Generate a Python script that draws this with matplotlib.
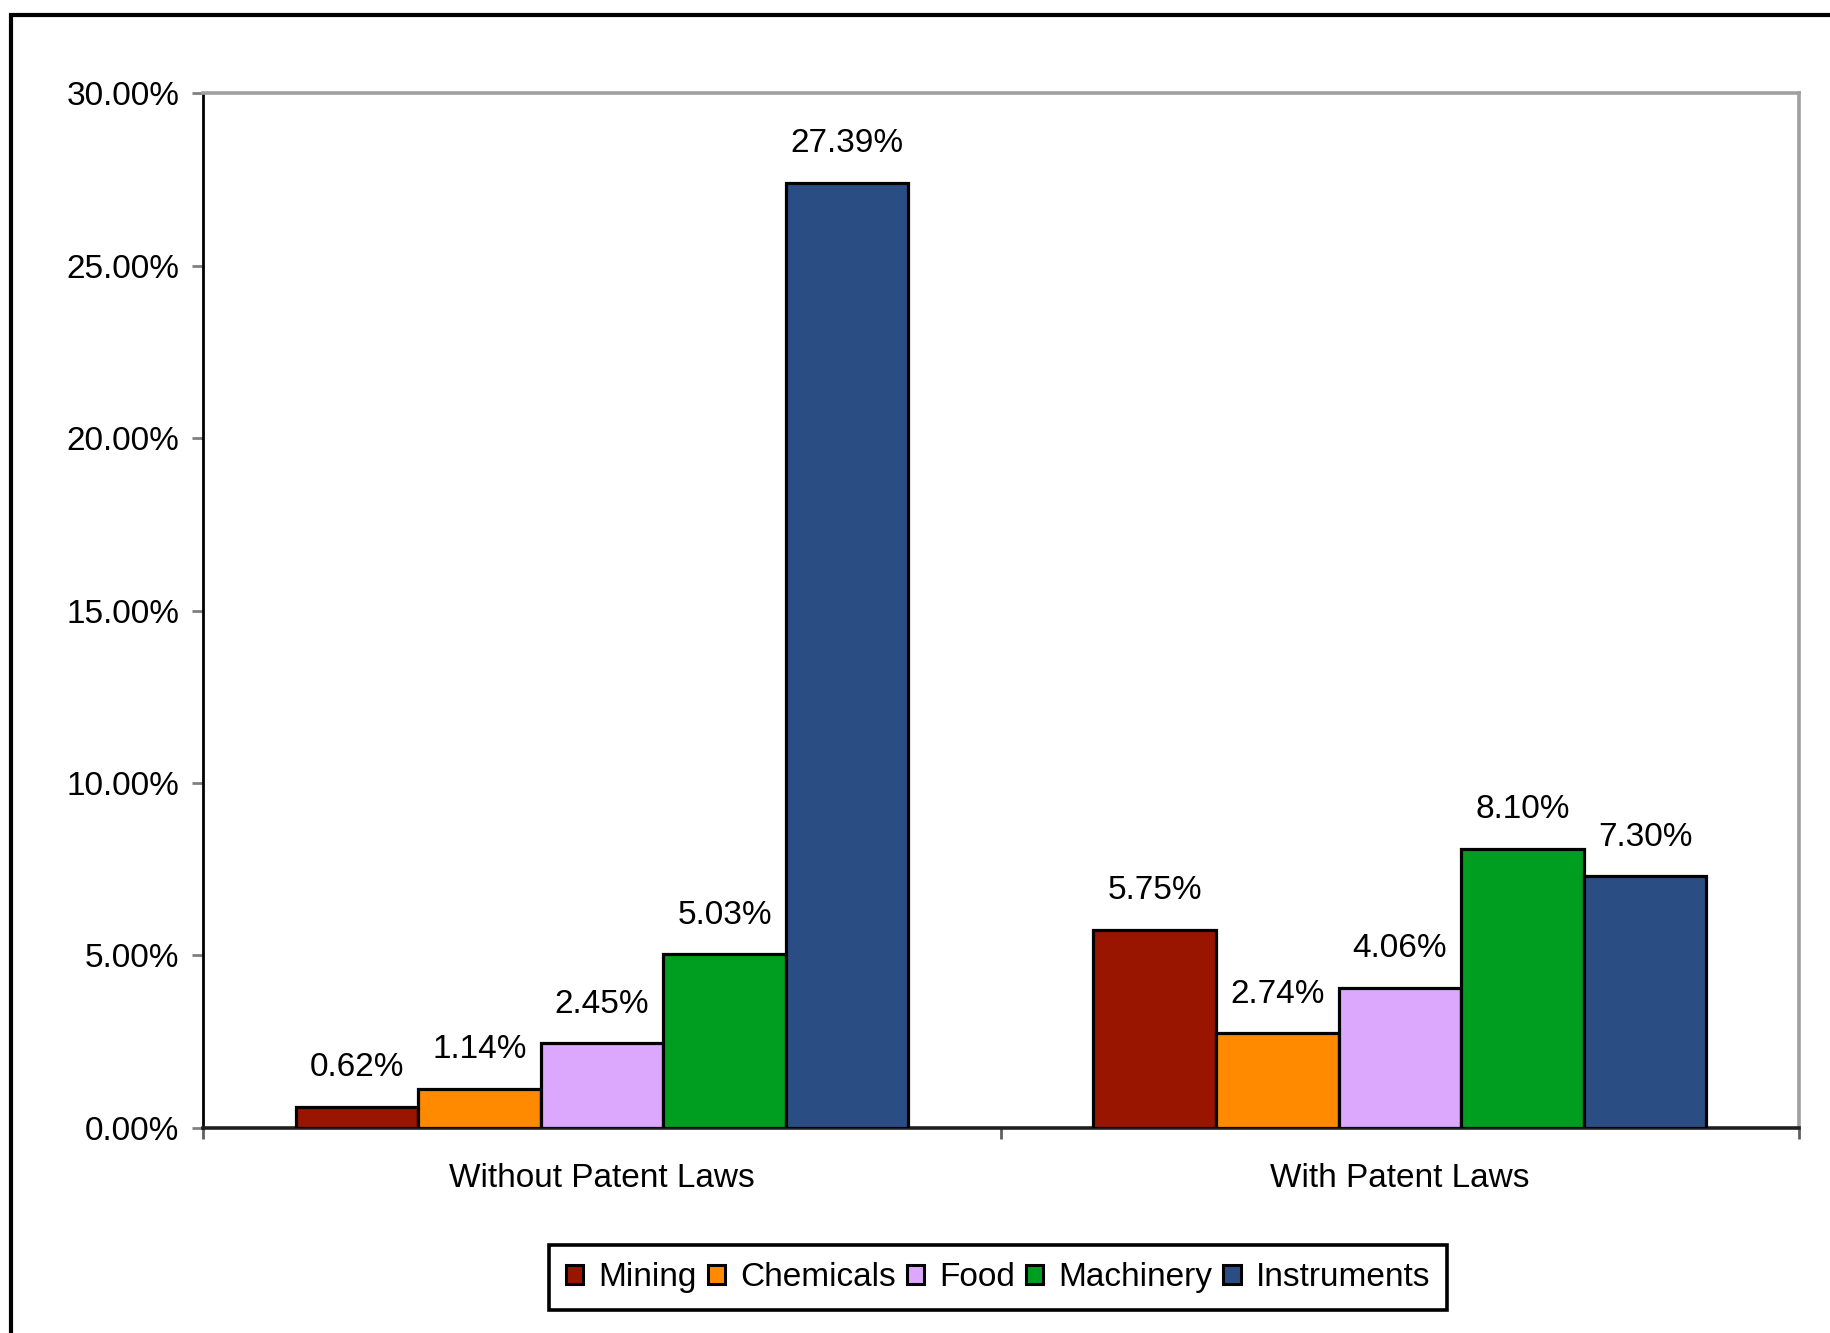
import matplotlib
matplotlib.use("Agg")
import matplotlib.pyplot as plt
import numpy as np
from matplotlib.patches import Rectangle, Patch
from matplotlib.ticker import FixedLocator, NullFormatter

# Share of innovations by industry, grouped by patent regime
groups = ["Without Patent Laws", "With Patent Laws"]
industries = ["Mining", "Chemicals", "Food", "Machinery", "Instruments"]
mining = [0.62, 5.75]
chemicals = [1.14, 2.74]
food = [2.45, 4.06]
machinery = [5.03, 8.10]
instruments = [27.39, 7.30]
series = [mining, chemicals, food, machinery, instruments]
colors = ["#991500", "#FF8A00", "#DBA8FD", "#009E20", "#2A4E84"]
yticks = [0, 5, 10, 15, 20, 25, 30]

plt.rcParams["font.family"] = ["Liberation Sans", "DejaVu Sans"]
FS = 24

fig = plt.figure(figsize=(18.3, 13.33), dpi=100)
ax = fig.add_axes([0.1109, 0.1538, 0.8721, 0.7764])

x = np.arange(len(groups))
width = 0.1536
for i, (vals, col) in enumerate(zip(series, colors)):
    pos = x + (i - 2) * width
    ax.bar(pos, vals, width=width, color=col, edgecolor="black",
           linewidth=2.3, zorder=3)
    for px, v in zip(pos, vals):
        ax.annotate(f"{v:.2f}%", xy=(px, v), xytext=(0, 17),
                    textcoords="offset points", ha="center", va="bottom",
                    fontsize=FS, color="black")

ax.set_xlim(-0.5, 1.5)
ax.set_ylim(0, 30)

# y axis
ax.set_yticks(yticks)
ax.set_yticklabels([f"{t:.2f}%" for t in yticks], fontsize=FS)
ax.tick_params(axis="y", direction="out", length=8, width=2,
               color="#808080", pad=9)

# x axis: boundary ticks, labels centred on groups
ax.xaxis.set_major_locator(FixedLocator([-0.5, 0.5, 1.5]))
ax.xaxis.set_major_formatter(NullFormatter())
ax.xaxis.set_minor_locator(FixedLocator(list(x)))
ax.set_xticklabels(groups, minor=True, fontsize=FS)
ax.tick_params(axis="x", which="major", direction="out", length=8,
               width=2, color="#606060")
ax.tick_params(axis="x", which="minor", length=0, pad=25.5)

for side in ("top", "right"):
    ax.spines[side].set_color("#A0A0A0")
    ax.spines[side].set_linewidth(2.6)
ax.spines["left"].set_color("black")
ax.spines["left"].set_linewidth(2)
ax.spines["bottom"].set_color("#202020")
ax.spines["bottom"].set_linewidth(2.6)

handles = [Patch(facecolor=c, edgecolor="black", linewidth=2.2)
           for c in colors]
leg = fig.legend(handles, industries, loc="center",
                 bbox_to_anchor=(0.5454, 0.0416), ncol=5, fontsize=FS,
                 frameon=True, fancybox=False, shadow=False,
                 handlelength=0.52, handleheight=0.52, handletextpad=0.45,
                 columnspacing=0.33, borderpad=0.5)
frame = leg.get_frame()
frame.set_edgecolor("black")
frame.set_linewidth(2.6)
frame.set_alpha(1)

# outer border around the chart
fig.patches.append(Rectangle((11 / 1830, -0.1), 1.2, 1.1 - 15 / 1333,
                             transform=fig.transFigure, fill=False,
                             edgecolor="black", linewidth=3,
                             clip_on=False))

fig.savefig("out.png", dpi=100)
